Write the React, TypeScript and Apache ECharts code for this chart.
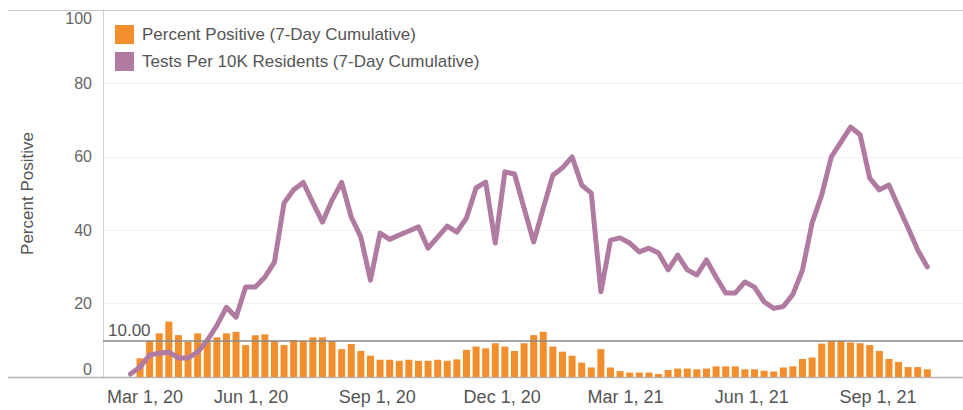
import React, { useEffect, useRef } from 'react';
import * as echarts from 'echarts';

// ---- Data ----
const DAY = 86400000;
const firstWeek = Date.UTC(2020, 2, 5); // week 0
const weekCount = 84;
const weeks: number[] = Array.from({ length: weekCount }, (_, i) => firstWeek + i * 7 * DAY);

const percentPositive: (number | null)[] = [
  null,
  5.1, 9.8, 11.9, 15.1, 11.4, 9.6, 11.9, 9.8, 10.8, 11.9,
  12.3, 8.7, 11.4, 11.6, 9.8, 8.7, 10.1, 9.8, 10.8, 10.8,
  9.8, 7.6, 9.0, 7.1, 5.8, 4.7, 4.7, 4.4, 4.7, 4.4,
  4.4, 4.7, 4.4, 4.8, 7.4, 8.3, 7.8, 9.2, 8.3, 7.1,
  9.2, 11.4, 12.3, 8.3, 6.9, 5.8, 3.9, 2.6, 7.6, 2.6,
  1.6, 1.2, 1.2, 1.2, 0.8, 1.9, 2.3, 2.3, 2.1, 2.3,
  2.9, 2.9, 2.9, 2.1, 2.1, 1.7, 1.5, 2.6, 2.9, 4.9,
  5.3, 9.1, 9.8, 9.8, 9.4, 9.2, 8.7, 7.1, 4.9, 4.1,
  2.7, 2.7, 2.1,
];

const testsPer10K: number[] = [
  0.8,
  2.7, 6.0, 6.5, 6.8, 5.2, 5.2, 6.8, 10.0, 14.0, 19.0,
  16.3, 24.5, 24.5, 27.2, 31.3, 47.4, 51.0, 53.0, 47.5, 42.2,
  48.2, 53.0, 43.6, 38.1, 26.4, 39.2, 37.5, 38.7, 39.8, 40.9,
  35.1, 38.1, 41.1, 39.5, 43.3, 51.5, 53.1, 36.5, 55.9, 55.3,
  46.0, 36.8, 46.0, 55.0, 57.0, 60.0, 52.3, 50.1, 23.2, 37.3,
  37.9, 36.5, 34.1, 35.1, 33.8, 29.2, 33.2, 29.2, 27.8, 31.9,
  27.2, 22.9, 22.9, 25.9, 24.5, 20.5, 18.7, 19.2, 22.5, 29.2,
  42.0, 49.6, 60.0, 64.0, 68.1, 66.0, 54.2, 51.0, 52.3, 46.3,
  40.6, 34.6, 30.0,
];

const tickDates: string[] = [
  '2020-03-01', '2020-06-01', '2020-09-01', '2020-12-01',
  '2021-03-01', '2021-06-01', '2021-09-01',
];
const yTicks: number[] = [0, 20, 40, 60, 80, 100];
const referenceValue = 10;
const seriesNames = [
  'Percent Positive (7-Day Cumulative)',
  'Tests Per 10K Residents (7-Day Cumulative)',
];
const axisMinDate = '2020-02-14';
const axisMaxDate = '2021-11-02';

const MONTHS = ['Jan', 'Feb', 'Mar', 'Apr', 'May', 'Jun', 'Jul', 'Aug', 'Sep', 'Oct', 'Nov', 'Dec'];
const toTs = (s: string) => Date.parse(s + 'T00:00:00Z');

const W = 963;
const H = 410;
const GRID = { left: 103, right: 0, top: 10, bottom: 33 };
const FONT = '"Liberation Sans", Arial, sans-serif';

export default function App() {
  const ref = useRef<HTMLDivElement>(null);
  useEffect(() => {
    if (!ref.current) return;
    const chart = echarts.init(ref.current, undefined, { renderer: 'svg' });
    const firstTick = toTs(tickDates[0]);
    const option: any = {
      animation: false,
      backgroundColor: '#ffffff',
      textStyle: { fontFamily: FONT },
      grid: { ...GRID, containLabel: false },
      legend: {
        orient: 'vertical',
        left: 110,
        top: 20,
        icon: 'rect',
        itemWidth: 19,
        itemHeight: 19,
        itemGap: 8,
        data: seriesNames,
        textStyle: { fontSize: 17, color: '#555', fontFamily: FONT, padding: [0, 0, 0, 3] },
      },
      xAxis: {
        type: 'value',
        min: toTs(axisMinDate),
        max: toTs(axisMaxDate),
        axisLine: { show: false },
        axisTick: { show: false },
        splitLine: { show: false },
        axisLabel: {
          customValues: tickDates.map(toTs),
          fontSize: 18,
          color: '#555',
          fontFamily: FONT,
          margin: 11,
          hideOverlap: false,
          formatter: (v: number) => {
            const d = new Date(v);
            const s = `${MONTHS[d.getUTCMonth()]} ${d.getUTCDate()}, ${String(d.getUTCFullYear()).slice(2)}`;
            return Math.abs(v - firstTick) < DAY ? `{first|${s}}` : s;
          },
          rich: {
            first: { fontSize: 18, color: '#555', fontFamily: FONT, padding: [0, 0, 0, 40] },
          },
        },
      },
      yAxis: {
        type: 'value',
        min: yTicks[0],
        max: yTicks[yTicks.length - 1],
        interval: yTicks[1] - yTicks[0],
        name: 'Percent Positive',
        nameLocation: 'middle',
        nameGap: 67,
        nameTextStyle: { fontSize: 17, color: '#555', fontFamily: FONT },
        axisLine: { show: true, lineStyle: { color: '#d0d0d0', width: 1 } },
        axisTick: { show: false },
        splitLine: { show: true, lineStyle: { color: '#f1f1f1', width: 1 } },
        axisLabel: {
          fontSize: 16,
          color: '#666',
          fontFamily: FONT,
          margin: 11,
          verticalAlignMinLabel: 'bottom',
          verticalAlignMaxLabel: 'top',
        },
      },
      graphic: [
        {
          type: 'line',
          shape: { x1: 8, y1: GRID.top + 0.5, x2: W, y2: GRID.top + 0.5 },
          style: { stroke: '#cccccc', lineWidth: 1 },
          z: 1,
        },
        {
          type: 'line',
          shape: { x1: 8, y1: H - GRID.bottom + 0.5, x2: W, y2: H - GRID.bottom + 0.5 },
          style: { stroke: '#b3b3b3', lineWidth: 1.5 },
          z: 1,
        },
      ],
      series: [
        {
          name: seriesNames[0],
          type: 'bar',
          barWidth: 7,
          itemStyle: { color: '#f28e2b' },
          data: weeks.map((t, i) => [t, percentPositive[i]]),
          z: 2,
          markLine: {
            silent: true,
            symbol: 'none',
            lineStyle: { color: '#8a8a8a', width: 1.6, type: 'solid' },
            label: {
              show: true,
              position: 'insideStartTop',
              formatter: referenceValue.toFixed(2),
              fontSize: 17,
              color: '#555',
              fontFamily: FONT,
              distance: [5, 1],
            },
            data: [{ yAxis: referenceValue }],
          },
        },
        {
          name: seriesNames[1],
          type: 'line',
          symbol: 'none',
          lineStyle: { color: '#b07aa1', width: 5, cap: 'round', join: 'round' },
          itemStyle: { color: '#b07aa1' },
          data: weeks.map((t, i) => [t, testsPer10K[i]]),
          z: 3,
        },
      ],
    };
    chart.setOption(option);
    return () => chart.dispose();
  }, []);
  return (
    <div
      ref={ref}
      style={{ position: 'fixed', left: 0, top: 0, width: W, height: H, background: '#fff' }}
    />
  );
}
